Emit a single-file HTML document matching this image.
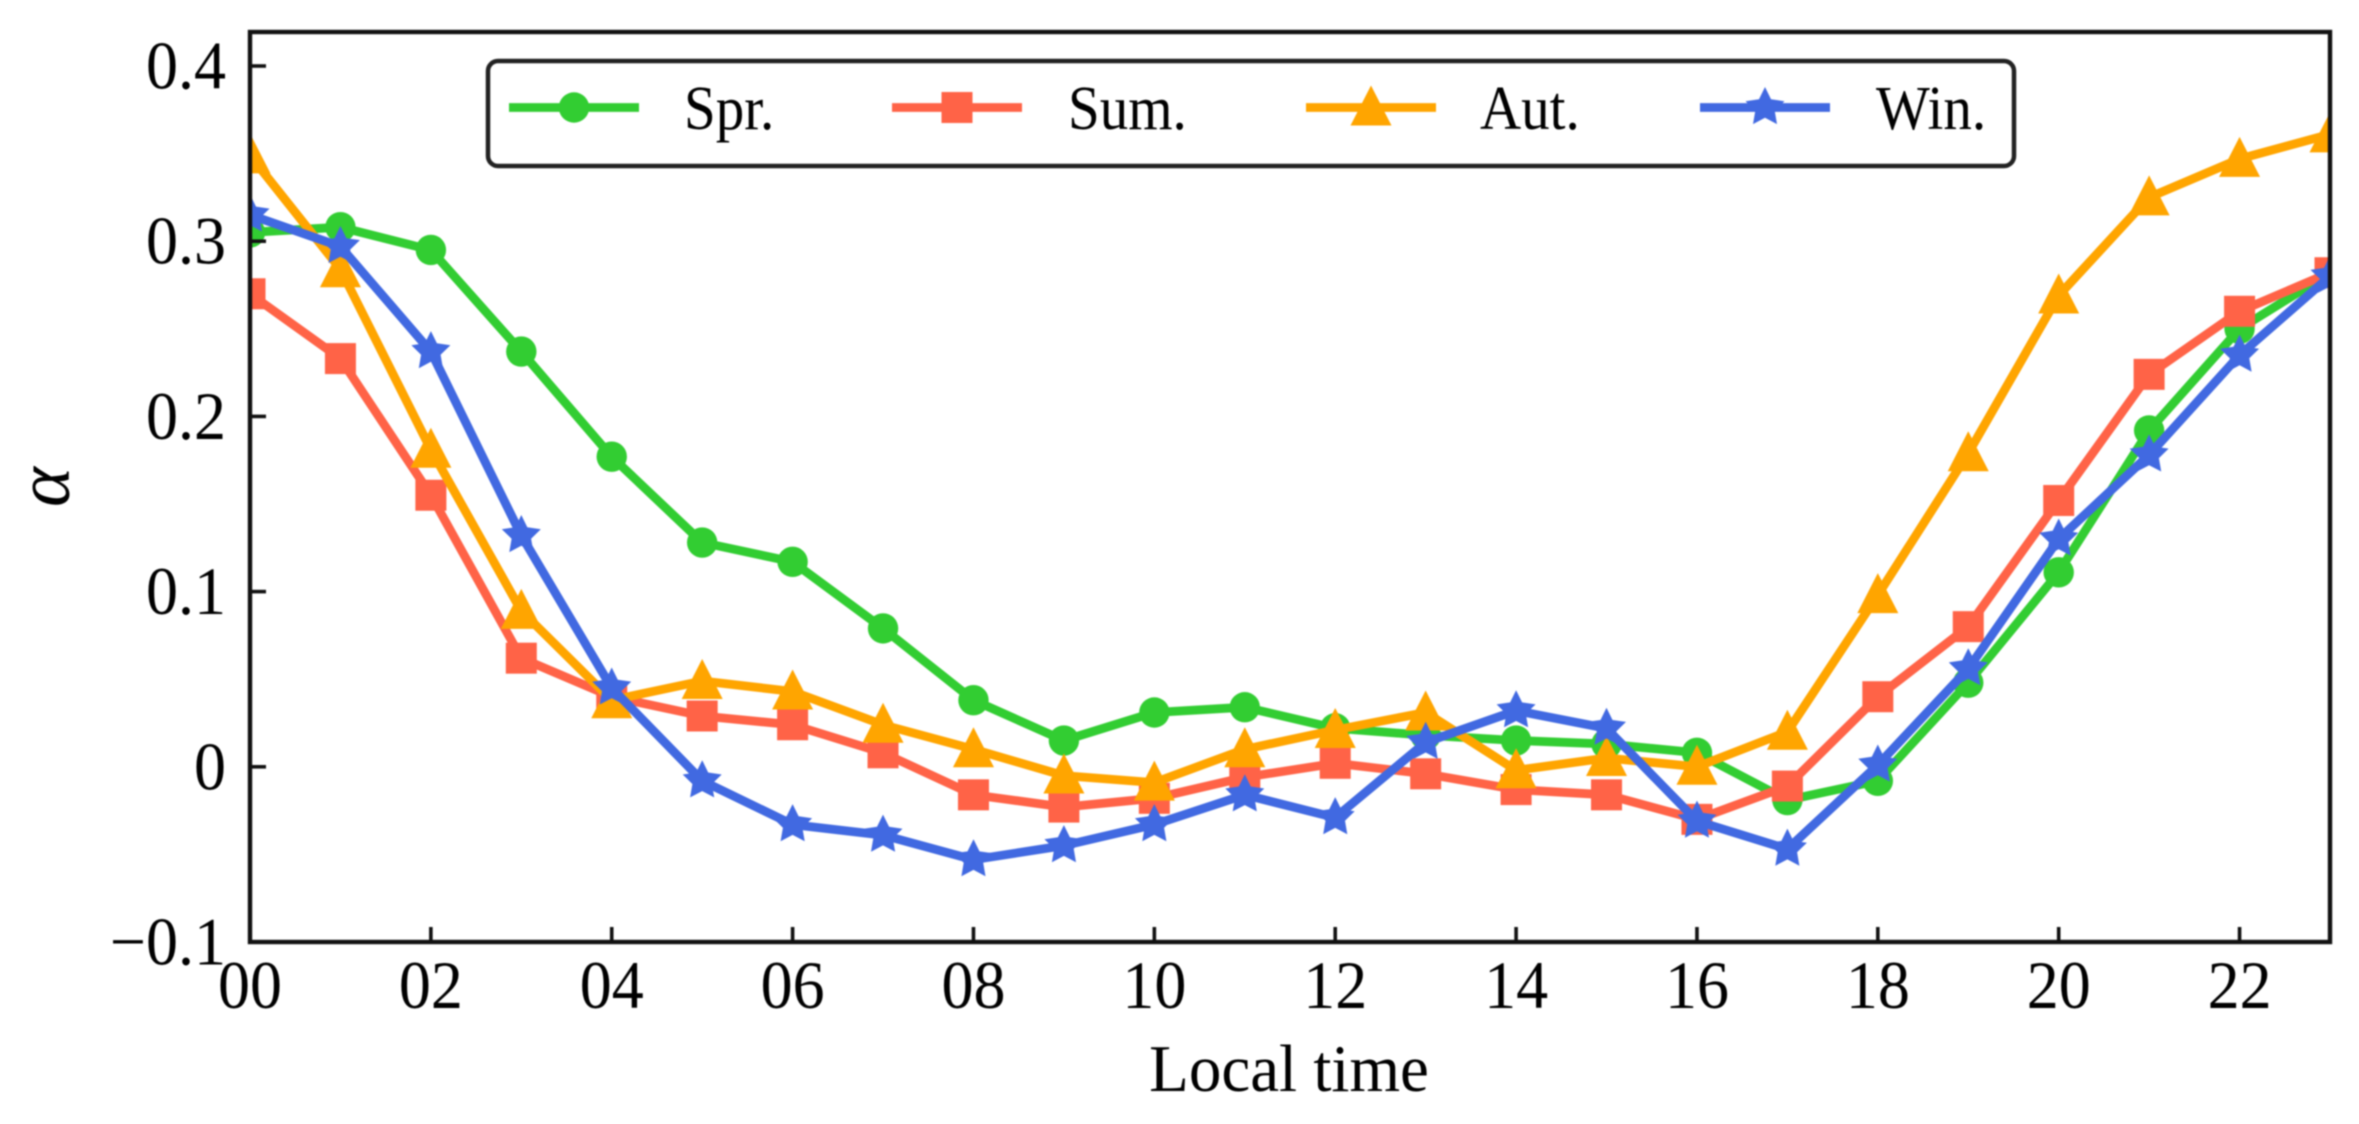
<!DOCTYPE html>
<html lang="en">
<head>
<meta charset="utf-8">
<title>Seasonal diurnal variation of alpha</title>
<style>
html,body{margin:0;padding:0;background:#fff;}
body{width:2359px;height:1124px;overflow:hidden;}
svg{display:block;filter:blur(0.8px);}
text{font-family:"Liberation Serif","Times New Roman",serif;fill:#000;}
</style>
</head>
<body>
<svg id="chart" xmlns="http://www.w3.org/2000/svg" width="2359" height="1124" viewBox="0 0 2359 1124">
  <rect x="0" y="0" width="2359" height="1124" fill="#fff"/>
  <defs>
    <clipPath id="plot-clip"><rect x="250" y="32" width="2080" height="910"/></clipPath>
  </defs>
  <g id="series-layer" clip-path="url(#plot-clip)"></g>
  <g id="axis-layer"></g>
  <g id="legend-layer">
    <rect x="488" y="61" width="1526" height="105" rx="10" ry="10" fill="#fff" stroke="#222" stroke-width="4.5"/>
  </g>
  <text transform="translate(1289,1091) scale(1,1.03)" font-size="65" text-anchor="middle">Local time</text>
  <text transform="translate(69,487) rotate(-90)" font-size="76" font-style="italic" text-anchor="middle">α</text>
</svg>
<script>
const hours = [0,1,2,3,4,5,6,7,8,9,10,11,12,13,14,15,16,17,18,19,20,21,22,23];
const spring = [0.305,0.308,0.295,0.237,0.177,0.128,0.117,0.079,0.038,0.015,0.031,0.034,0.022,0.018,0.015,0.013,0.008,-0.019,-0.008,0.048,0.111,0.192,0.250,0.282];
const summer = [0.270,0.233,0.155,0.062,0.040,0.029,0.024,0.008,-0.016,-0.023,-0.018,-0.006,0.002,-0.004,-0.013,-0.016,-0.030,-0.011,0.040,0.080,0.152,0.224,0.260,0.282];
const autumn = [0.349,0.284,0.181,0.089,0.038,0.049,0.043,0.024,0.010,-0.005,-0.009,0.010,0.021,0.031,-0.002,0.005,0.000,0.020,0.098,0.179,0.269,0.325,0.347,0.361];
const winter = [0.315,0.297,0.237,0.132,0.045,-0.008,-0.033,-0.039,-0.053,-0.045,-0.033,-0.016,-0.029,0.014,0.032,0.022,-0.031,-0.047,0.001,0.056,0.130,0.178,0.235,0.280];
const xTickValues = [0,2,4,6,8,10,12,14,16,18,20,22];
const xTickLabels = ["00","02","04","06","08","10","12","14","16","18","20","22"];
const yTickValues = [-0.1,0,0.1,0.2,0.3,0.4];
const yTickLabels = ["\u22120.1","0","0.1","0.2","0.3","0.4"];
const seriesNames = ["Spr.","Sum.","Aut.","Win."];

const NS = "http://www.w3.org/2000/svg";
const plot = {left:250, right:2330, top:32, bottom:942};
const xDomain = [0,23];
const yAt0 = 766.8, pxPerUnit = 1752;
function xScale(v){ return plot.left + (v - xDomain[0]) / (xDomain[1] - xDomain[0]) * (plot.right - plot.left); }
function yScale(v){ return yAt0 - v * pxPerUnit; }

function el(tag, attrs, parent){
  const n = document.createElementNS(NS, tag);
  for (const k in attrs) n.setAttribute(k, attrs[k]);
  parent.appendChild(n);
  return n;
}
function starPoints(cx, cy, R){
  const r = R * 0.5, pts = [];
  for (let i = 0; i < 10; i++){
    const a = -Math.PI / 2 + i * Math.PI / 5, q = i % 2 ? r : R;
    pts.push((cx + q * Math.cos(a)).toFixed(1) + "," + (cy + q * Math.sin(a)).toFixed(1));
  }
  return pts.join(" ");
}
function drawMarker(kind, cx, cy, color, parent){
  let m;
  if (kind === "circle") m = el("circle", {cx:cx, cy:cy, r:15.2, fill:color}, parent);
  else if (kind === "square") m = el("rect", {x:cx-15.5, y:cy-15.5, width:31, height:31, fill:color}, parent);
  else if (kind === "triangle") m = el("polygon", {points:`${cx},${cy-22} ${cx-20.5},${cy+18} ${cx+20.5},${cy+18}`, fill:color}, parent);
  else m = el("polygon", {points:starPoints(cx, cy, 20.5), fill:color}, parent);
  return m;
}

const seriesDefs = [
  {key:"spring", values:spring, color:"#32CD32", marker:"circle", handle:509, text:684},
  {key:"summer", values:summer, color:"#FF6347", marker:"square", handle:892, text:1068},
  {key:"autumn", values:autumn, color:"#FFA500", marker:"triangle", handle:1306, text:1480},
  {key:"winter", values:winter, color:"#4169E1", marker:"star", handle:1700, text:1876}
];

const seriesLayer = document.getElementById("series-layer");
seriesDefs.forEach(function(s){
  const g = el("g", {}, seriesLayer);
  
  
  const line = el("polyline", {
    points: s.values.map(function(v,i){ return xScale(hours[i]).toFixed(1) + "," + yScale(v).toFixed(1); }).join(" "),
    fill:"none", stroke:s.color, "stroke-width":8.8, "stroke-linejoin":"round"
  }, g);
  
  
  s.values.forEach(function(v,i){
    const m = drawMarker(s.marker, xScale(hours[i]), yScale(v), s.color, g);
    
    
  });
});

const axisLayer = document.getElementById("axis-layer");
xTickValues.forEach(function(v,i){
  const x = xScale(v);
  if (v !== xDomain[0]) {
    const t = el("line", {x1:x, x2:x, y1:plot.bottom, y2:plot.bottom-15, stroke:"#111", "stroke-width":3.6}, axisLayer);
    
    
  }
  const lab = el("text", {transform:"translate(" + x + ",1008) scale(1,1.06)", "font-size":64, "text-anchor":"middle"}, axisLayer);
  lab.textContent = xTickLabels[i];
  
  
});
yTickValues.forEach(function(v,i){
  const y = yScale(v);
  if (i > 0) {
    const t = el("line", {x1:plot.left, x2:plot.left+16, y1:y, y2:y, stroke:"#111", "stroke-width":3.6}, axisLayer);
    
    
  }
  const lab = el("text", {transform:"translate(226," + (y+22.5) + ") scale(1,1.06)", "font-size":64, "text-anchor":"end"}, axisLayer);
  lab.textContent = yTickLabels[i];
  
  
});
const frame = el("rect", {x:plot.left, y:plot.top, width:plot.right-plot.left, height:plot.bottom-plot.top, fill:"none", stroke:"#111", "stroke-width":4.4}, axisLayer);



const legendLayer = document.getElementById("legend-layer");
seriesDefs.forEach(function(s,i){
  const g = el("g", {}, legendLayer);
  
  
  const ln = el("line", {x1:s.handle, x2:s.handle+130, y1:107.5, y2:107.5, stroke:s.color, "stroke-width":8.8}, g);
  
  
  const mk = drawMarker(s.marker, s.handle+65, 107.5, s.color, g);
  
  
  const tx = el("text", {transform:"translate(" + s.text + ",129) scale(1,1.09)", "font-size":57}, g);
  tx.textContent = seriesNames[i];
  
  
});
</script>
</body>
</html>
